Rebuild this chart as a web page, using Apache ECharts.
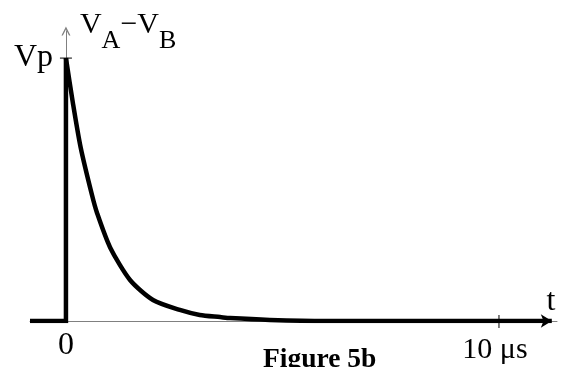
<!DOCTYPE html>
<html><head><meta charset="utf-8">
<script src="https://cdn.jsdelivr.net/npm/echarts@6/dist/echarts.min.js"></script>
<style>html,body{margin:0;padding:0;background:#fff}#c{width:563px;height:367px}</style>
</head><body><div id="c"></div>
<script>
// Step part (before t = 0 and the jump to Vp)
const stepT = [-0.83, 0, 0];
const stepV = [0, 0, 1];
// Decay part (t in µs, value as fraction of Vp)
const decayT = [0, 0.16, 0.34, 0.60, 0.72, 1.02, 1.48, 2.01, 2.63, 3.09, 3.56, 3.79, 4.71, 6.0, 8.0, 10.0, 11.22];
const decayV = [1, 0.83, 0.66, 0.48, 0.41, 0.28, 0.156, 0.08, 0.042, 0.023, 0.015, 0.011, 0.004, 0, 0, 0, 0];
const xLabelValues = [0, 10];
const xLabelTexts = ['0', '10 μs'];
const yLabelValues = [1];
const yLabelTexts = ['Vp'];
const xTickValues = [10];
const yTickValues = [1];
const xName = 't';
const yNameParts = ['V', 'A', '−V', 'B'];
const caption = 'Figure 5b';

const FONT = 'Liberation Serif';
const chart = echarts.init(document.getElementById('c'), null, {renderer: 'canvas'});

const stepData = stepT.map((t, i) => [t, stepV[i]]);
const decayData = decayT.map((t, i) => {
  const last = i === decayT.length - 1;
  return last ? {value: [t, decayV[i]], symbol: 'arrow', symbolSize: [10, 11], symbolRotate: -90,
                 itemStyle: {color: '#000'}} : [t, decayV[i]];
});

chart.setOption({
  animation: false,
  title: {
    text: caption, left: 263, top: 346, padding: 0,
    textStyle: {fontFamily: FONT, fontWeight: 'bold', fontSize: 27.5, color: '#000'}
  },
  grid: {left: 30, right: 6, top: 31, bottom: 46, containLabel: false, outerBoundsMode: 'none'},
  xAxis: {
    type: 'value', min: -0.83, max: 11.34,
    name: xName, nameLocation: 'end', nameGap: -6,
    nameTextStyle: {fontFamily: FONT, fontSize: 32, color: '#000', align: 'center', verticalAlign: 'bottom', padding: [0, 0, 3, 0]},
    axisLine: {onZero: true, lineStyle: {color: '#808080', width: 1}},
    axisTick: {show: false},
    splitLine: {show: false},
    axisLabel: {
      customValues: xLabelValues,
      margin: 9,
      formatter: v => {
        const i = xLabelValues.indexOf(v);
        if (i < 0) return '';
        return i === 0 ? '{a|' + xLabelTexts[i] + '}' : '{b|' + xLabelTexts[i] + '}';
      },
      rich: {
        a: {fontFamily: FONT, fontSize: 32, color: '#000'},
        b: {fontFamily: FONT, fontSize: 30, color: '#000', padding: [5, 8, 0, 0]}
      }
    }
  },
  yAxis: {
    type: 'value', min: 0, max: 1.103,
    name: '{v|' + yNameParts[0] + '}{s|' + yNameParts[1] + '}{v|' + yNameParts[2] + '}{s|' + yNameParts[3] + '}',
    nameLocation: 'end', nameGap: 21,
    nameTextStyle: {
      align: 'left', verticalAlign: 'top', padding: [0, 0, 0, 14],
      rich: {
        v: {fontFamily: FONT, fontSize: 30, color: '#000', verticalAlign: 'top'},
        s: {fontFamily: FONT, fontSize: 26, color: '#000', verticalAlign: 'top', padding: [18, 0, 0, 0]}
      }
    },
    axisLine: {onZero: true, lineStyle: {color: '#808080', width: 1},
      symbol: ['none', 'path://M0,10 L5,0 L10,10 L8.4,10 L5,3.2 L1.6,10 Z'], symbolSize: [11, 9]},
    axisTick: {show: false},
    splitLine: {show: false},
    axisLabel: {
      customValues: yLabelValues,
      margin: -23,
      align: 'right',
      fontFamily: FONT, fontSize: 32, color: '#000',
      padding: [0, 0, 12, 0],
      formatter: v => {
        const i = yLabelValues.indexOf(v);
        return i < 0 ? '' : yLabelTexts[i];
      }
    }
  },
  series: [
    {type: 'line', data: stepData, symbol: 'none', lineStyle: {color: '#000', width: 4.5, join: 'miter'}, z: 3},
    {type: 'line', data: decayData, symbol: 'none', showSymbol: true, smooth: 0.25,
     lineStyle: {color: '#000', width: 4.5}, itemStyle: {color: '#000'}, z: 4}
  ]
});

// tick marks that cross the axes
const g = [];
xTickValues.forEach(v => {
  const p = chart.convertToPixel({gridIndex: 0}, [v, 0]);
  g.push({type: 'line', shape: {x1: p[0], y1: p[1] - 6, x2: p[0], y2: p[1] + 7}, style: {stroke: '#000', lineWidth: 1}, z: 10});
});
yTickValues.forEach(v => {
  const p = chart.convertToPixel({gridIndex: 0}, [0, v]);
  g.push({type: 'line', shape: {x1: p[0] - 6, y1: p[1], x2: p[0] + 6, y2: p[1]}, style: {stroke: '#000', lineWidth: 1}, z: 10});
});
chart.setOption({graphic: g});
</script>
</body></html>
